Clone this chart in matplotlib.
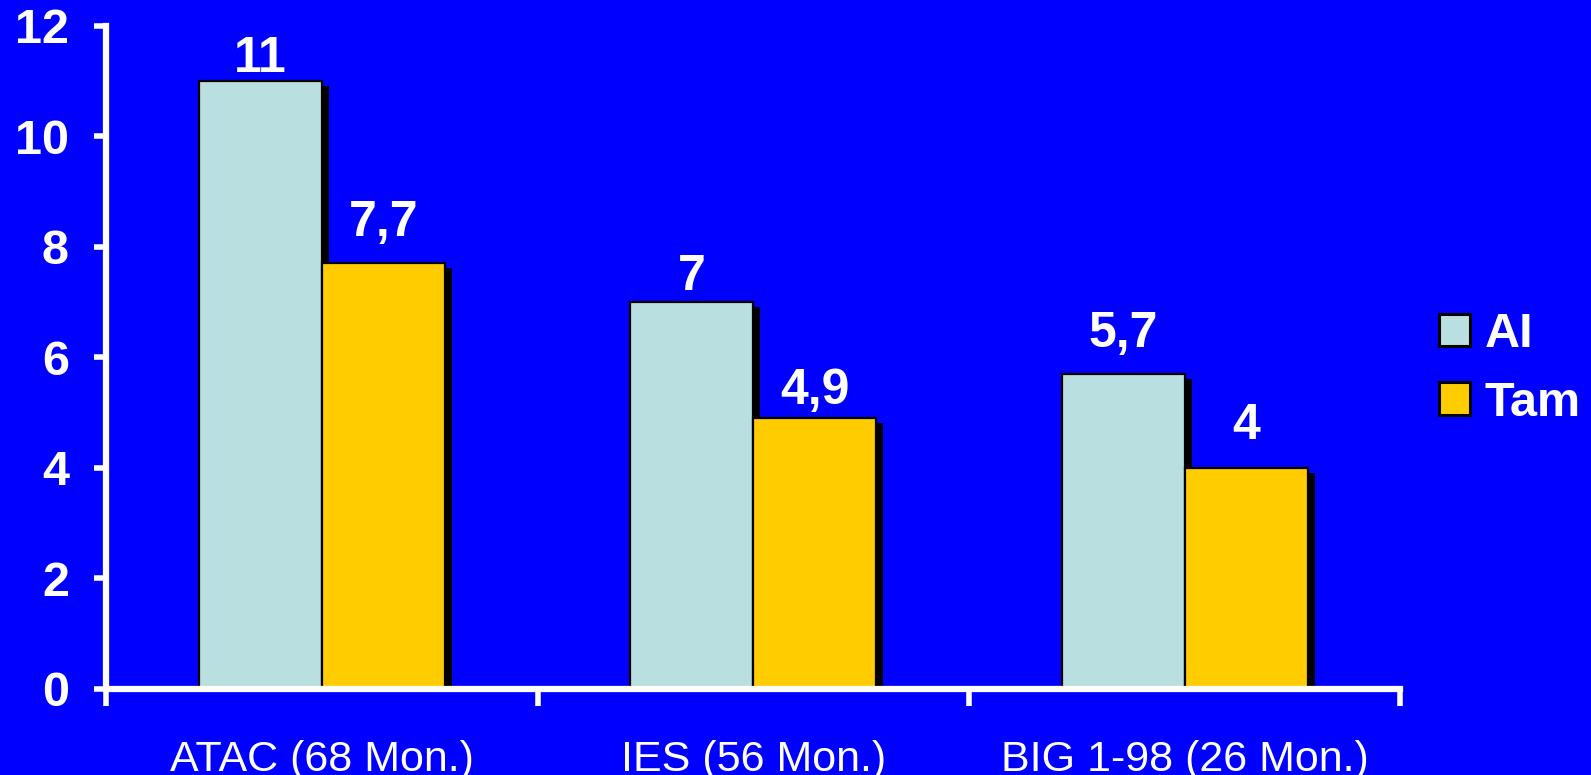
import numpy as np
import matplotlib.pyplot as plt
import matplotlib.patheffects as pe

studies = ['ATAC (68 Mon.)', 'IES (56 Mon.)', 'BIG 1-98 (26 Mon.)']
ai_values = [11, 7, 5.7]
tam_values = [7.7, 4.9, 4]
ai_labels = ['11', '7', '5,7']
tam_labels = ['7,7', '4,9', '4']
y_ticks = [0, 2, 4, 6, 8, 10, 12]

# baseline gap of each value label above its bar, in points
ai_gap = [6.5, 8.5, 19.5]
tam_gap = [19.5, 10, 21]

blue = '#0000FF'
ai_color = '#B9DFE0'
tam_color = '#FFCC00'

plt.rcParams['font.family'] = ['Liberation Sans', 'DejaVu Sans']

fig = plt.figure(figsize=(15.91, 7.75), dpi=100, facecolor=blue)
ax = fig.add_axes([0.0669, 0.111, 0.8133, 0.856])
ax.set_facecolor(blue)

x = np.arange(len(studies)) + 0.5
w = 0.285
shadow = [pe.SimplePatchShadow(offset=(5, -3.5), shadow_rgbFace='black', alpha=1.0), pe.Normal()]

b1 = ax.bar(x - w / 2, ai_values, w, color=ai_color, edgecolor='black', linewidth=1.6,
            label='AI', zorder=2)
b2 = ax.bar(x + w / 2, tam_values, w, color=tam_color, edgecolor='black', linewidth=1.6,
            label='Tam', zorder=2)
for bar in list(b1) + list(b2):
    bar.set_path_effects(shadow)

for i in range(len(studies)):
    ax.annotate(ai_labels[i], (x[i] - w / 2, ai_values[i]), xytext=(0, ai_gap[i]),
                textcoords='offset points', ha='center', va='baseline',
                color='white', fontsize=36, fontweight='bold')
    ax.annotate(tam_labels[i], (x[i] + w / 2, tam_values[i]), xytext=(0, tam_gap[i]),
                textcoords='offset points', ha='center', va='baseline',
                color='white', fontsize=36, fontweight='bold')

ax.set_xlim(0, 3)
ax.set_ylim(0, 12)
ax.set_yticks(y_ticks)
ax.set_yticklabels([str(t) for t in y_ticks], fontsize=35, fontweight='bold', color='white')
ax.set_xticks([0, 1, 2, 3])
ax.set_xticklabels([])
ax.set_xticks(x, minor=True)
ax.set_xticklabels(studies, minor=True, fontsize=31, color='white')
ax.tick_params(axis='x', which='minor', length=0, pad=37)
ax.tick_params(axis='x', which='major', length=12, width=4, color='white', direction='out')
ax.tick_params(axis='y', length=9, width=4, color='white', direction='out', pad=18)

for s in ['top', 'right']:
    ax.spines[s].set_visible(False)
for s in ['left', 'bottom']:
    ax.spines[s].set_color('white')
    ax.spines[s].set_linewidth(4.5)
    ax.spines[s].set_zorder(3)

leg = ax.legend(loc='center left', bbox_to_anchor=(0.892, 0.524), bbox_transform=fig.transFigure,
                borderaxespad=0, frameon=False,
                prop={'size': 35, 'weight': 'bold'}, labelcolor='white',
                handlelength=0.64, handleheight=0.64, handletextpad=0.3, labelspacing=0.48)
for h in leg.legend_handles:
    h.set_path_effects([])
    h.set_linewidth(2.2)

fig.savefig('out.png', dpi=100, facecolor=blue)
